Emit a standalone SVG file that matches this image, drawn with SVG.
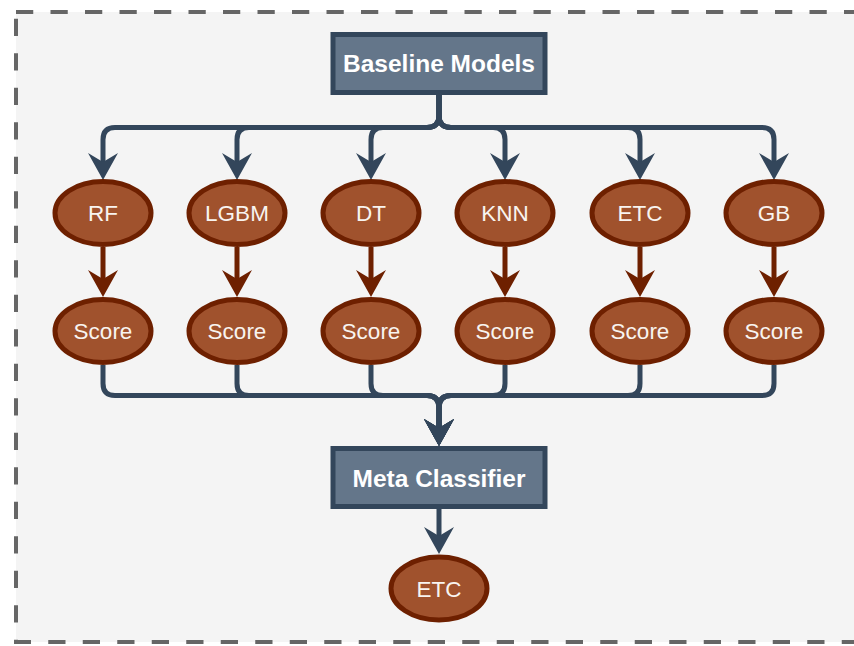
<svg xmlns="http://www.w3.org/2000/svg" width="854" height="646" viewBox="0 0 854 646">
  <defs>
    <style>
      .frame { fill: #f4f4f4; stroke: #666666; stroke-width: 4; stroke-dasharray: 17.25 17.25; }
      .box { fill: #64768a; stroke: #33465b; stroke-width: 5; }
      .box-text { font-family: "Liberation Sans", Arial, sans-serif; font-weight: bold; font-size: 24.5px; fill: #ffffff; text-anchor: middle; }
      .oval { fill: #a0522d; stroke: #6e2000; stroke-width: 5; }
      .oval-text { font-family: "Liberation Sans", Arial, sans-serif; font-size: 22.5px; fill: #f8f4f0; text-anchor: middle; }
      .link { fill: none; stroke: #33465b; stroke-width: 5; }
      .link-brown { fill: none; stroke: #6e2000; stroke-width: 5; }
    </style>
    <marker id="arrow-slate" markerUnits="userSpaceOnUse" viewBox="-28 -16 30 32" markerWidth="30" markerHeight="32" refX="-18" refY="0" orient="auto">
      <path d="M0,0 L-27,-15 L-18,0 L-27,15 Z" fill="#33465b"/>
    </marker>
    <marker id="arrow-brown" markerUnits="userSpaceOnUse" viewBox="-28 -16 30 32" markerWidth="30" markerHeight="32" refX="-18" refY="0" orient="auto">
      <path d="M0,0 L-27,-15 L-18,0 L-27,15 Z" fill="#6e2000"/>
    </marker>
  </defs>

  <!-- dashed container; its right edge runs past the canvas -->
  <rect class="frame" x="16" y="12" width="900" height="630"/>

  <!-- connectors -->
  <g id="connectors">
    <!-- Baseline Models fan-out -->
    <path class="link" marker-end="url(#arrow-slate)" d="M439 95 V115.5 Q439 127.5 427 127.5 H115 Q103 127.5 103 139.5 V162"/>
    <path class="link" marker-end="url(#arrow-slate)" d="M439 95 V115.5 Q439 127.5 427 127.5 H249 Q237 127.5 237 139.5 V162"/>
    <path class="link" marker-end="url(#arrow-slate)" d="M439 95 V115.5 Q439 127.5 427 127.5 H383 Q371 127.5 371 139.5 V162"/>
    <path class="link" marker-end="url(#arrow-slate)" d="M439 95 V115.5 Q439 127.5 451 127.5 H493 Q505 127.5 505 139.5 V162"/>
    <path class="link" marker-end="url(#arrow-slate)" d="M439 95 V115.5 Q439 127.5 451 127.5 H628 Q640 127.5 640 139.5 V162"/>
    <path class="link" marker-end="url(#arrow-slate)" d="M439 95 V115.5 Q439 127.5 451 127.5 H762 Q774 127.5 774 139.5 V162"/>

    <!-- model to score -->
    <path class="link-brown" marker-end="url(#arrow-brown)" d="M103 247 V279"/>
    <path class="link-brown" marker-end="url(#arrow-brown)" d="M237 247 V279"/>
    <path class="link-brown" marker-end="url(#arrow-brown)" d="M371 247 V279"/>
    <path class="link-brown" marker-end="url(#arrow-brown)" d="M505 247 V279"/>
    <path class="link-brown" marker-end="url(#arrow-brown)" d="M640 247 V279"/>
    <path class="link-brown" marker-end="url(#arrow-brown)" d="M774 247 V279"/>

    <!-- scores merge into Meta Classifier -->
    <path class="link" marker-end="url(#arrow-slate)" d="M103 365 V383.5 Q103 395.5 115 395.5 H427 Q439 395.5 439 407.5 V428"/>
    <path class="link" marker-end="url(#arrow-slate)" d="M237 365 V383.5 Q237 395.5 249 395.5 H427 Q439 395.5 439 407.5 V428"/>
    <path class="link" marker-end="url(#arrow-slate)" d="M371 365 V383.5 Q371 395.5 383 395.5 H427 Q439 395.5 439 407.5 V428"/>
    <path class="link" marker-end="url(#arrow-slate)" d="M505 365 V383.5 Q505 395.5 493 395.5 H451 Q439 395.5 439 407.5 V428"/>
    <path class="link" marker-end="url(#arrow-slate)" d="M640 365 V383.5 Q640 395.5 628 395.5 H451 Q439 395.5 439 407.5 V428"/>
    <path class="link" marker-end="url(#arrow-slate)" d="M774 365 V383.5 Q774 395.5 762 395.5 H451 Q439 395.5 439 407.5 V428"/>

    <!-- Meta Classifier to ETC -->
    <path class="link" marker-end="url(#arrow-slate)" d="M439 509 V536"/>
  </g>

  <!-- nodes -->
  <g id="baseline-models">
    <rect class="box" x="333" y="34.5" width="212" height="58"/>
    <text class="box-text" x="439" y="72">Baseline Models</text>
  </g>

  <g id="model-rf">
    <ellipse class="oval" cx="103" cy="213" rx="48" ry="31.5"/>
    <text class="oval-text" x="103" y="221">RF</text>
  </g>
  <g id="model-lgbm">
    <ellipse class="oval" cx="237" cy="213" rx="48" ry="31.5"/>
    <text class="oval-text" x="237" y="221">LGBM</text>
  </g>
  <g id="model-dt">
    <ellipse class="oval" cx="371" cy="213" rx="48" ry="31.5"/>
    <text class="oval-text" x="371" y="221">DT</text>
  </g>
  <g id="model-knn">
    <ellipse class="oval" cx="505" cy="213" rx="48" ry="31.5"/>
    <text class="oval-text" x="505" y="221">KNN</text>
  </g>
  <g id="model-etc">
    <ellipse class="oval" cx="640" cy="213" rx="48" ry="31.5"/>
    <text class="oval-text" x="640" y="221">ETC</text>
  </g>
  <g id="model-gb">
    <ellipse class="oval" cx="774" cy="213" rx="48" ry="31.5"/>
    <text class="oval-text" x="774" y="221">GB</text>
  </g>

  <g id="score-rf">
    <ellipse class="oval" cx="103" cy="331" rx="48" ry="31.5"/>
    <text class="oval-text" x="103" y="339">Score</text>
  </g>
  <g id="score-lgbm">
    <ellipse class="oval" cx="237" cy="331" rx="48" ry="31.5"/>
    <text class="oval-text" x="237" y="339">Score</text>
  </g>
  <g id="score-dt">
    <ellipse class="oval" cx="371" cy="331" rx="48" ry="31.5"/>
    <text class="oval-text" x="371" y="339">Score</text>
  </g>
  <g id="score-knn">
    <ellipse class="oval" cx="505" cy="331" rx="48" ry="31.5"/>
    <text class="oval-text" x="505" y="339">Score</text>
  </g>
  <g id="score-etc">
    <ellipse class="oval" cx="640" cy="331" rx="48" ry="31.5"/>
    <text class="oval-text" x="640" y="339">Score</text>
  </g>
  <g id="score-gb">
    <ellipse class="oval" cx="774" cy="331" rx="48" ry="31.5"/>
    <text class="oval-text" x="774" y="339">Score</text>
  </g>

  <g id="meta-classifier">
    <rect class="box" x="333" y="448.5" width="212" height="58"/>
    <text class="box-text" x="439" y="487">Meta Classifier</text>
  </g>

  <g id="final-etc">
    <ellipse class="oval" cx="439" cy="588.5" rx="48" ry="31.5"/>
    <text class="oval-text" x="439" y="596.5">ETC</text>
  </g>
</svg>
